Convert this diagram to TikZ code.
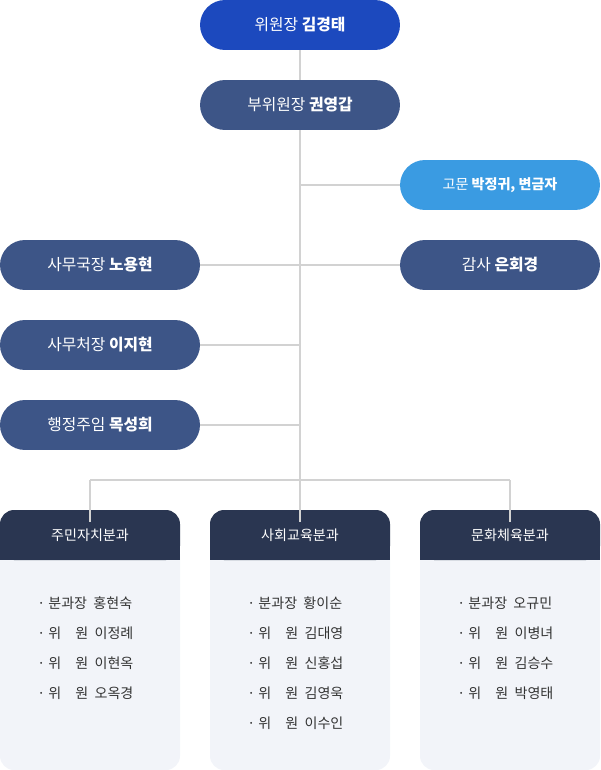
\documentclass[tikz,border=0pt]{standalone}
\usepackage{fontspec}
\setmainfont{Noto Sans CJK KR}
\usetikzlibrary{positioning}
\definecolor{topblue}{HTML}{1C49BE}
\definecolor{slate}{HTML}{3D5587}
\definecolor{lightblue}{HTML}{3A9BE2}
\definecolor{navy}{HTML}{2A3651}
\definecolor{paleback}{HTML}{F2F4F9}
\definecolor{linegray}{HTML}{D2D2D2}

\begin{document}
\begin{tikzpicture}[x=0.02cm,y=-0.02cm,
		pill/.style={rounded corners=0.5cm,minimum width=4cm,minimum height=1cm,
			fill=slate,text=white,font=\small,inner sep=0pt},
		link/.style={draw=linegray,line width=0.6pt},
		item/.style={anchor=west,font=\footnotesize,text=black!80,inner sep=0pt}]
		\useasboundingbox (0,0) rectangle (600,770);

		\node[pill,fill=topblue] (chair) at (300,25) {위원장 \textbf{김경태}};
		\node[pill] (vice) at (300,105) {부위원장 \textbf{권영갑}};
		\node[pill,fill=lightblue,font=\footnotesize] (advisor) at (500,185) {고문 \textbf{박정귀, 변금자}};
		\node[pill] (audit) at (500,265) {감사 \textbf{은회경}};
		\node[pill] (secgen) at (100,265) {사무국장 \textbf{노용현}};
		\node[pill] (office) at (100,345) {사무처장 \textbf{이지현}};
		\node[pill] (admin) at (100,425) {행정주임 \textbf{목성희}};

		\coordinate (hub) at (300,480);
		\coordinate (hubL) at (90,480);
		\coordinate (hubR) at (510,480);

		% division boxes
		\foreach \x/\name/\title in {0/resident/주민자치분과,210/social/사회교육분과,420/culture/문화체육분과}{
			\fill[paleback,rounded corners=8pt] (\x,540) rectangle (\x+180,770);
			\fill[navy,rounded corners=8pt] (\x,510) rectangle (\x+180,560);
			\fill[navy] (\x,540) rectangle (\x+180,560);
			\node[text=white,font=\footnotesize] (\name) at (\x+90,535) {\title};
		}

		\path[link]
		(chair) -- (vice)
		(vice) -- (hub)
		(advisor.west) -- (advisor.west -| vice)
		(secgen) -- (audit)
		(office.east) -- (office.east -| vice)
		(admin.east) -- (admin.east -| vice)
		(hubL) -- (hubR)
		(hubL) -- (hubL |- resident.north)
		(hub) -- (hub |- social.north)
		(hubR) -- (hubR |- culture.north);

		\foreach \i/\t in {1/·\ 분과장\ \ 홍현숙,2/·\ 위\quad 원\ \ 이정례,3/·\ 위\quad 원\ \ 이현옥,4/·\ 위\quad 원\ \ 오옥경}
			\node[item] (r\i) at (37,573+30*\i) {\t};
		\foreach \i/\t in {1/·\ 분과장\ \ 황이순,2/·\ 위\quad 원\ \ 김대영,3/·\ 위\quad 원\ \ 신홍섭,4/·\ 위\quad 원\ \ 김영욱,5/·\ 위\quad 원\ \ 이수인}
			\node[item] (s\i) at (247,573+30*\i) {\t};
		\foreach \i/\t in {1/·\ 분과장\ \ 오규민,2/·\ 위\quad 원\ \ 이병녀,3/·\ 위\quad 원\ \ 김승수,4/·\ 위\quad 원\ \ 박영태}
			\node[item] (c\i) at (457,573+30*\i) {\t};
\end{tikzpicture}
\end{document}
